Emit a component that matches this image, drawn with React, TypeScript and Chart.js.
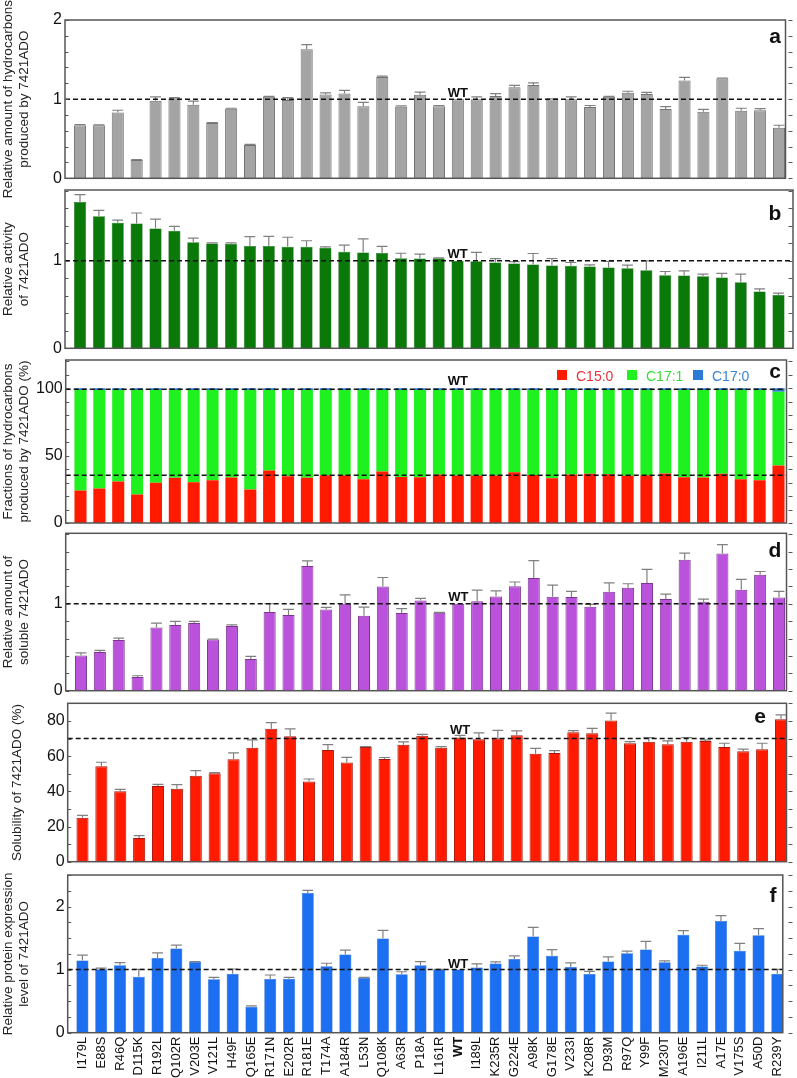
import React, { useEffect, useRef } from 'react';
import { Chart, registerables } from 'chart.js';

Chart.register(...registerables);

const PAGE_W = 797;
const PAGE_H = 1078;
const X_LABEL_H = 45;
const FONT = '"Liberation Sans", Arial, Helvetica, sans-serif';

const MUTANTS = ['I179L', 'E88S', 'R46Q', 'D115K', 'R192L', 'Q102R', 'V203E', 'V121L', 'H49F', 'Q165E', 'R171N', 'E202R', 'R181E', 'T174A', 'A184R', 'L53N', 'Q108K', 'A63R', 'P18A', 'L161R', 'WT', 'I189L', 'K235R', 'G224E', 'A98K', 'G178E', 'V233I', 'K208R', 'D93M', 'R97Q', 'Y99F', 'M230T', 'A196E', 'I211L', 'A17E', 'V175S', 'A50D', 'R239Y'];

// a: relative amount of hydrocarbons
const HYDROCARBON_AMOUNT = [0.67, 0.67, 0.83, 0.23, 0.98, 1.01, 0.93, 0.70, 0.88, 0.42, 1.03, 0.99, 1.63, 1.06, 1.07, 0.91, 1.28, 0.905, 1.055, 0.91, 1.0, 1.0, 1.04, 1.15, 1.18, 0.995, 1.0, 0.90, 1.03, 1.08, 1.065, 0.875, 1.235, 0.84, 1.26, 0.855, 0.86, 0.64];
const HYDROCARBON_AMOUNT_ERR = [0.01, 0.005, 0.03, 0.005, 0.05, 0.01, 0.045, 0.005, 0.005, 0.008, 0.005, 0.03, 0.06, 0.02, 0.04, 0.05, 0.01, 0.01, 0.035, 0.01, 0, 0.03, 0.03, 0.025, 0.025, 0.01, 0.03, 0.02, 0.005, 0.02, 0.02, 0.03, 0.04, 0.03, 0.005, 0.03, 0.02, 0.03];

// b: relative activity
const ACTIVITY = [1.672, 1.511, 1.435, 1.427, 1.37, 1.343, 1.214, 1.198, 1.195, 1.17, 1.17, 1.16, 1.16, 1.149, 1.103, 1.095, 1.09, 1.03, 1.027, 1.03, 1.0, 0.996, 0.98, 0.97, 0.958, 0.947, 0.943, 0.935, 0.924, 0.916, 0.893, 0.836, 0.832, 0.824, 0.81, 0.756, 0.649, 0.61];
const ACTIVITY_ERR = [0.084, 0.065, 0.03, 0.12, 0.107, 0.05, 0.046, 0.008, 0.01, 0.107, 0.11, 0.11, 0.07, 0.01, 0.076, 0.156, 0.076, 0.057, 0.05, 0.005, 0, 0.1, 0.046, 0.02, 0.126, 0.08, 0.038, 0.02, 0.07, 0.034, 0.107, 0.042, 0.053, 0.023, 0.046, 0.092, 0.03, 0.02];

// c: fractions of hydrocarbons (%)
const FRACTION_C15_0 = [24.1, 25.6, 30.8, 21.1, 29.8, 33.5, 30.3, 31.8, 33.7, 24.8, 39.0, 34.7, 33.5, 35.5, 35.5, 32.5, 38.2, 34.2, 34.0, 36.0, 35.2, 35.2, 35.2, 37.7, 35.7, 33.3, 36.0, 36.5, 36.2, 35.0, 35.5, 36.7, 34.0, 33.7, 36.5, 32.5, 31.8, 42.7];
const FRACTION_C17_1 = [74.6, 73.1, 67.9, 77.6, 68.9, 65.2, 68.4, 66.9, 65.0, 73.9, 59.7, 64.0, 65.2, 63.2, 63.2, 66.2, 60.5, 64.5, 64.7, 62.7, 63.5, 63.5, 63.5, 61.0, 63.0, 65.4, 62.7, 62.2, 62.5, 63.7, 63.2, 62.0, 64.7, 65.0, 62.2, 66.2, 66.9, 54.8];
const FRACTION_C17_0 = [1.3, 1.3, 1.3, 1.3, 1.3, 1.3, 1.3, 1.3, 1.3, 1.3, 1.3, 1.3, 1.3, 1.3, 1.3, 1.3, 1.3, 1.3, 1.3, 1.3, 1.3, 1.3, 1.3, 1.3, 1.3, 1.3, 1.3, 1.3, 1.3, 1.3, 1.3, 1.3, 1.3, 1.3, 1.3, 1.3, 1.3, 2.5];

// d: relative amount of soluble 7421ADO
const SOLUBLE_AMOUNT = [0.406, 0.444, 0.582, 0.157, 0.728, 0.755, 0.778, 0.59, 0.743, 0.364, 0.904, 0.87, 1.433, 0.935, 1.0, 0.862, 1.199, 0.893, 1.038, 0.897, 1.0, 1.03, 1.084, 1.2, 1.295, 1.08, 1.077, 0.966, 1.138, 1.184, 1.238, 1.054, 1.506, 1.023, 1.579, 1.161, 1.333, 1.073];
const SOLUBLE_AMOUNT_ERR = [0.03, 0.02, 0.023, 0.015, 0.05, 0.042, 0.019, 0.004, 0.015, 0.03, 0.096, 0.065, 0.06, 0.023, 0.103, 0.1, 0.103, 0.05, 0.023, 0.004, 0, 0.126, 0.065, 0.05, 0.2, 0.134, 0.065, 0.027, 0.103, 0.046, 0.157, 0.057, 0.077, 0.03, 0.1, 0.119, 0.038, 0.069];

// e: solubility (%)
const SOLUBILITY = [25.0, 54.2, 40.0, 13.5, 43.0, 41.5, 48.9, 50.2, 58.2, 64.8, 75.6, 71.3, 45.5, 63.5, 56.3, 65.2, 58.4, 66.4, 71.5, 64.8, 70.5, 69.6, 70.1, 71.8, 61.4, 61.8, 73.6, 73.0, 80.2, 67.3, 68.2, 66.7, 68.2, 68.6, 65.2, 62.7, 63.9, 80.9];
const SOLUBILITY_ERR = [1.3, 2.3, 1.1, 1.3, 0.9, 2.3, 2.8, 0.4, 3.6, 4.4, 3.4, 4.2, 1.5, 3.0, 3.0, 0.2, 0.8, 1.7, 0.9, 0.6, 1.3, 3.6, 4.5, 2.5, 3.0, 1.3, 0.9, 2.8, 4.2, 0.9, 2.3, 1.9, 2.3, 0.6, 2.1, 1.3, 3.4, 2.5];

// f: relative protein expression level
const EXPRESSION = [1.144, 1.005, 1.07, 0.888, 1.186, 1.335, 1.122, 0.846, 0.936, 0.41, 0.851, 0.856, 2.213, 1.053, 1.239, 0.867, 1.495, 0.926, 1.07, 1.0, 1.0, 1.032, 1.096, 1.17, 1.527, 1.218, 1.043, 0.93, 1.128, 1.26, 1.32, 1.117, 1.553, 1.048, 1.771, 1.298, 1.543, 0.936];
const EXPRESSION_ERR = [0.085, 0.02, 0.042, 0.117, 0.08, 0.053, 0.005, 0.032, 0.074, 0.016, 0.064, 0.02, 0.042, 0.048, 0.069, 0.01, 0.128, 0.04, 0.058, 0.005, 0, 0.058, 0.027, 0.048, 0.144, 0.1, 0.064, 0.042, 0.074, 0.032, 0.128, 0.021, 0.064, 0.021, 0.085, 0.117, 0.106, 0.069];

const FRACTION_LEGEND = ['C15:0', 'C17:1', 'C17:0'];

type Series = { label: string; values: number[]; err?: number[]; fill: string; border: string; borderWidth: number };
type Panel = {
  letter: string;
  top: number; bottom: number; left: number; right: number;
  firstCenter: number; lastCenter: number;
  yMax: number; majorStep: number; minorStep: number;
  title: string[]; titlePad: number;
  refLines: number[]; wtLine: number; wtGap: number;
  letterX: number; letterDy: number;
  series: Series[]; stacked: boolean; legend: boolean; xLabels: boolean;
};

const PANELS: Panel[] = [
  {
    letter: 'a', top: 20, bottom: 178.3, left: 65, right: 785.5, firstCenter: 80, lastCenter: 779,
    yMax: 2, majorStep: 1, minorStep: 0.2,
    title: ['Relative amount of hydrocarbons', 'produced by 7421ADO'], titlePad: 0,
    refLines: [1], wtLine: 0, wtGap: 2.5, letterX: 775, letterDy: 23.3,
    series: [{ label: 'a', values: HYDROCARBON_AMOUNT, err: HYDROCARBON_AMOUNT_ERR, fill: '#a4a4a4', border: '#727272', borderWidth: 1 }],
    stacked: false, legend: false, xLabels: false,
  },
  {
    letter: 'b', top: 190, bottom: 348.3, left: 65, right: 793, firstCenter: 80, lastCenter: 778.5,
    yMax: 1.81, majorStep: 1, minorStep: 0.2,
    title: ['Relative activity', 'of 7421ADO'], titlePad: 0,
    refLines: [1], wtLine: 0, wtGap: 3, letterX: 775, letterDy: 30,
    series: [{ label: 'b', values: ACTIVITY, err: ACTIVITY_ERR, fill: '#0a790a', border: '#066306', borderWidth: 0.5 }],
    stacked: false, legend: false, xLabels: false,
  },
  {
    letter: 'c', top: 360, bottom: 523, left: 65.7, right: 786.5, firstCenter: 80.5, lastCenter: 778.5,
    yMax: 121, majorStep: 50, minorStep: 10,
    title: ['Fractions of hydrocarbons', 'produced by 7421ADO (%)'], titlePad: 0,
    refLines: [99.3, 35.5], wtLine: 0, wtGap: 4, letterX: 775, letterDy: 18,
    series: [
      { label: FRACTION_LEGEND[0], values: FRACTION_C15_0, fill: '#ff1a00', border: '#ff1a00', borderWidth: 0 },
      { label: FRACTION_LEGEND[1], values: FRACTION_C17_1, fill: '#1ff01f', border: '#1ff01f', borderWidth: 0 },
      { label: FRACTION_LEGEND[2], values: FRACTION_C17_0, fill: '#2b7bd6', border: '#2b7bd6', borderWidth: 0 },
    ],
    stacked: true, legend: true, xLabels: false,
  },
  {
    letter: 'd', top: 533.3, bottom: 690.7, left: 65.7, right: 786.5, firstCenter: 81, lastCenter: 779,
    yMax: 1.81, majorStep: 1, minorStep: 0.2,
    title: ['Relative amount of', 'soluble 7421ADO'], titlePad: 0,
    refLines: [1], wtLine: 0, wtGap: 2.7, letterX: 775, letterDy: 23.4,
    series: [{ label: 'd', values: SOLUBLE_AMOUNT, err: SOLUBLE_AMOUNT_ERR, fill: '#bb52dc', border: '#7c3690', borderWidth: 1 }],
    stacked: false, legend: false, xLabels: false,
  },
  {
    letter: 'e', top: 703.3, bottom: 861.7, left: 67.7, right: 786.5, firstCenter: 82.5, lastCenter: 781,
    yMax: 90, majorStep: 20, minorStep: 10,
    title: ['Solubility of 7421ADO (%)'], titlePad: 9,
    refLines: [70], wtLine: 0, wtGap: 5, letterX: 760, letterDy: 19.4,
    series: [{ label: 'e', values: SOLUBILITY, err: SOLUBILITY_ERR, fill: '#ff1a00', border: '#a81508', borderWidth: 1 }],
    stacked: false, legend: false, xLabels: false,
  },
  {
    letter: 'f', top: 875, bottom: 1032.7, left: 67.7, right: 786.5, firstCenter: 82.5, lastCenter: 781,
    yMax: 2.5, majorStep: 1, minorStep: 0.25,
    title: ['Relative protein expression', 'level of 7421ADO'], titlePad: 0,
    refLines: [1], wtLine: 0, wtGap: 2, letterX: 773, letterDy: 26.7,
    series: [{ label: 'f', values: EXPRESSION, err: EXPRESSION_ERR, fill: '#1b6ff0', border: '#1756c0', borderWidth: 0.5 }],
    stacked: false, legend: false, xLabels: true,
  },
];

const LEGEND_COLORS = [
  { box: '#ff1a00', text: '#e8303c' },
  { box: '#1ff01f', text: '#38dc38' },
  { box: '#2b7bd6', text: '#3b82d0' },
];
const LEGEND_BOX_X = [557, 627, 693];

function makeDecorPlugin(p: Panel) {
  return {
    id: 'decor',
    afterDatasetsDraw(chart: any) {
      const ctx = chart.ctx as CanvasRenderingContext2D;
      const ca = chart.chartArea;
      const ys = chart.scales.y;
      const xs = chart.scales.x;
      ctx.save();

      // error bars
      p.series.forEach((s, di) => {
        if (!s.err) return;
        const meta = chart.getDatasetMeta(di);
        meta.data.forEach((el: any, i: number) => {
          const e = s.err![i];
          if (!e) return;
          const y0 = el.y;
          const y1 = ys.getPixelForValue(s.values[i] + e);
          const hw = el.width * 0.45;
          ctx.strokeStyle = '#808080';
          ctx.lineWidth = 1.2;
          ctx.beginPath();
          ctx.moveTo(el.x, y0);
          ctx.lineTo(el.x, y1);
          ctx.moveTo(el.x - hw, y1);
          ctx.lineTo(el.x + hw, y1);
          ctx.stroke();
        });
      });

      // dashed reference lines
      ctx.setLineDash([5, 3]);
      ctx.strokeStyle = '#111';
      ctx.lineWidth = 1.5;
      p.refLines.forEach((v) => {
        const y = ys.getPixelForValue(v);
        ctx.beginPath();
        ctx.moveTo(ca.left, y);
        ctx.lineTo(ca.right, y);
        ctx.stroke();
      });
      ctx.setLineDash([]);

      // WT label
      const wtX = xs.getPixelForValue(MUTANTS.indexOf('WT'));
      const wtY = ys.getPixelForValue(p.refLines[p.wtLine]) - p.wtGap;
      ctx.fillStyle = '#111';
      ctx.font = `bold 13px ${FONT}`;
      ctx.textAlign = 'center';
      ctx.textBaseline = 'alphabetic';
      ctx.fillText('WT', wtX, wtY);

      // panel letter
      ctx.font = `bold 21px ${FONT}`;
      ctx.fillText(p.letter, p.letterX, ca.top + p.letterDy);

      // legend
      if (p.legend) {
        ctx.font = `14px ${FONT}`;
        ctx.textAlign = 'left';
        p.series.forEach((s, i) => {
          const bx = LEGEND_BOX_X[i];
          ctx.fillStyle = LEGEND_COLORS[i].box;
          ctx.fillRect(bx, ca.top + 10, 10, 10);
          ctx.fillStyle = LEGEND_COLORS[i].text;
          ctx.fillText(s.label, bx + 19, ca.top + 20.5);
        });
      }

      // tick marks
      ctx.strokeStyle = '#555';
      ctx.lineWidth = 1;
      const n = Math.round(p.yMax / p.minorStep + 1e-6);
      for (let k = 0; k <= n; k++) {
        const v = k * p.minorStep;
        if (v > p.yMax + 1e-9) break;
        const y = Math.round(ys.getPixelForValue(v)) + 0.5;
        ctx.beginPath();
        ctx.moveTo(ca.left, y);
        ctx.lineTo(ca.left + 3.5, y);
        ctx.moveTo(788.5, y);
        ctx.lineTo(792.5, y);
        ctx.stroke();
      }

      // frame
      ctx.strokeStyle = '#555';
      ctx.lineWidth = 1.5;
      ctx.strokeRect(ca.left, ca.top, ca.right - ca.left, ca.bottom - ca.top);
      ctx.restore();
    },
  };
}

function buildConfig(p: Panel): any {
  const step = (p.lastCenter - p.firstCenter) / (MUTANTS.length - 1);
  const xMin = -(p.firstCenter - p.left) / step;
  const xMax = MUTANTS.length - 1 + (p.right - p.lastCenter) / step;
  return {
    type: 'bar',
    data: {
      datasets: p.series.map((s) => ({
        label: s.label,
        data: s.values.map((v, i) => ({ x: i, y: v })),
        backgroundColor: s.fill,
        borderColor: s.border,
        borderWidth: s.borderWidth,
        barPercentage: 0.64,
        categoryPercentage: 1,
      })),
    },
    options: {
      animation: false,
      responsive: false,
      devicePixelRatio: 1,
      layout: {
        padding: {
          top: p.top,
          left: 0,
          right: PAGE_W - p.right,
          bottom: p.xLabels ? PAGE_H - p.bottom - X_LABEL_H : PAGE_H - p.bottom,
        },
      },
      plugins: { legend: { display: false }, tooltip: { enabled: false } },
      scales: {
        x: {
          type: 'linear',
          min: xMin,
          max: xMax,
          offset: false,
          stacked: p.stacked,
          display: p.xLabels,
          grid: { display: false, drawTicks: false, offset: false },
          border: { display: false },
          afterBuildTicks: (scale: any) => {
            scale.ticks = MUTANTS.map((_, i) => ({ value: i }));
          },
          afterFit: (scale: any) => {
            scale.height = p.xLabels ? X_LABEL_H : 0;
          },
          ticks: {
            autoSkip: false,
            maxRotation: 90,
            minRotation: 90,
            padding: 4,
            color: '#111',
            font: (c: any) => ({
              family: FONT,
              size: 13,
              weight: c && c.index === MUTANTS.indexOf('WT') ? 'bold' : 'normal',
            }),
            callback: (v: any) => MUTANTS[Math.round(Number(v))] ?? '',
          },
        },
        y: {
          type: 'linear',
          min: 0,
          max: p.yMax,
          stacked: p.stacked,
          grid: { display: false, drawTicks: false },
          border: { display: false },
          afterFit: (scale: any) => {
            scale.width = p.left;
          },
          ticks: {
            stepSize: p.majorStep,
            includeBounds: false,
            padding: 3,
            color: '#111',
            font: { family: FONT, size: 16 },
            callback: (v: any) => {
              const n = Number(v);
              return Math.abs(n / p.majorStep - Math.round(n / p.majorStep)) < 1e-6 ? String(Math.round(n)) : '';
            },
          },
          title: {
            display: true,
            text: p.title,
            color: '#222',
            font: { family: FONT, size: 13.5 },
            padding: { top: p.titlePad, bottom: 0 },
          },
        },
      },
    },
    plugins: [makeDecorPlugin(p)],
  };
}

function PanelChart({ panel }: { panel: Panel }) {
  const ref = useRef<HTMLCanvasElement>(null);
  useEffect(() => {
    if (!ref.current) return;
    const chart = new Chart(ref.current, buildConfig(panel));
    return () => chart.destroy();
  }, [panel]);
  return (
    <canvas
      ref={ref}
      width={PAGE_W}
      height={PAGE_H}
      style={{ position: 'absolute', left: 0, top: 0, width: PAGE_W, height: PAGE_H }}
    />
  );
}

export default function App() {
  return (
    <div style={{ position: 'absolute', left: 0, top: 0, width: PAGE_W, height: PAGE_H, background: '#fff', overflow: 'hidden' }}>
      {PANELS.map((p) => (
        <PanelChart key={p.letter} panel={p} />
      ))}
    </div>
  );
}
